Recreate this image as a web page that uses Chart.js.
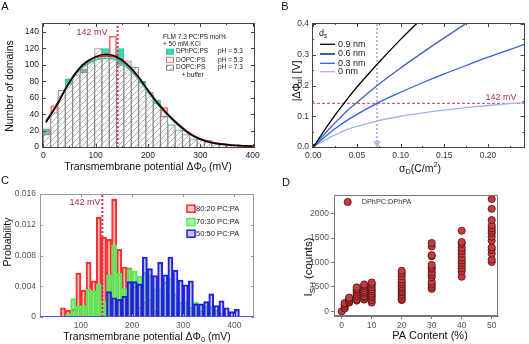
<!DOCTYPE html>
<html>
<head>
<meta charset="utf-8">
<script src="https://cdn.jsdelivr.net/npm/chart.js@4.4.0/dist/chart.umd.min.js"></script>
<style>
  body { margin: 0; background: #fff; }
  #wrap { position: relative; width: 529px; height: 344px; overflow: hidden; }
  #wrap canvas { position: absolute; left: 0; top: 0; }
</style>
</head>
<body>
<div id="wrap">
  <canvas id="chartA" width="529" height="344"></canvas>
  <canvas id="chartB" width="529" height="344"></canvas>
  <canvas id="chartC" width="529" height="344"></canvas>
  <canvas id="chartD" width="529" height="344"></canvas>
</div>
<script>
// ---- A: domain potential histograms (14 mV bins) + fits
var aBinWidth = 14;
var aBins = [7, 21, 35, 49, 63, 77, 91, 105, 119, 133, 147, 161, 175, 189, 203, 217, 231, 245, 259, 273, 287, 301, 315, 329, 343, 357, 371, 385, 399];
var aDphpc53 = [22, 38, 65, 83, 87, 95, 102, 110, 120, 112, 120, 104, 95, 80, 66, 57, 38, 27, 19, 13, 9, 7, 6, 4, 3, 2, 1.5, 1, 0.5];
var aDopc53 = [20, 50, 60, 75, 85, 95, 100, 112, 110, 135, 108, 100, 92, 75, 65, 50, 48, 25, 18, 12, 8, 7, 6, 4.5, 3, 2, 1.5, 1, 0.5];
var aDopc73 = [15, 42, 69, 77, 88, 91, 105, 120, 113, 110, 100, 105, 97, 78, 67, 53, 37, 27, 21, 15, 10, 10, 8.5, 4.5, 3.6, 2.4, 2, 1, 0.8];
var aFitX = [5, 25, 50, 75, 100, 120, 140, 160, 180, 200, 220, 240, 260, 280, 300, 320, 340, 360, 380, 400];
var aFitBlack = [30, 50, 79, 100, 110, 113, 110, 101, 87, 69, 52, 38, 26, 16, 9.5, 5.5, 3.5, 2.2, 1.5, 1];
var aFitRed = [31, 51, 79, 99, 109, 111, 109, 100, 86, 69, 53, 39, 27, 17, 10, 6, 3.8, 2.4, 1.6, 1.1];
var aFitTeal = [32, 51, 78, 97, 106, 108, 106, 97, 84, 67, 51, 37, 25, 15.5, 9, 5.3, 3.3, 2.1, 1.4, 1];
var aTicksX = [0, 100, 200, 300, 400];
var aTicksY = [0, 20, 40, 60, 80, 100, 120, 140];
var markMv = 142;

// ---- B: diffuse potential vs surface charge for several Stern layer thicknesses
var bSigma = [0, 0.01, 0.02, 0.03, 0.04, 0.05, 0.075, 0.1, 0.125, 0.15, 0.175, 0.2, 0.225, 0.245];
var b09 = [0, 0.043, 0.084, 0.123, 0.16, 0.195, 0.275, 0.35, 0.42, 0.49, null, null, null, null];
var b06 = [0, 0.033, 0.064, 0.093, 0.121, 0.145, 0.204, 0.257, 0.307, 0.355, 0.402, 0.448, null, null];
var b03 = [0, 0.025, 0.049, 0.070, 0.089, 0.106, 0.145, 0.178, 0.209, 0.238, 0.265, 0.292, 0.317, 0.337];
var b00 = [0, 0.017, 0.033, 0.046, 0.058, 0.067, 0.086, 0.100, 0.111, 0.120, 0.128, 0.135, 0.141, 0.145];
var sigmaMark = 0.073;
var bTicksX = [0, 0.05, 0.1, 0.15, 0.2];
var bTicksY = [0, 0.1, 0.2, 0.3, 0.4];

// ---- C: PC:PA probability histograms (10 mV bins)
var cBinWidth = 10;
var cBins = [65, 75, 85, 95, 105, 115, 125, 135, 145, 155, 165, 175, 185, 195, 205, 215, 225, 235, 245, 255, 265, 275, 285, 295, 305, 315, 325, 335, 345, 355, 365, 375, 385, 395, 405];
var c8020 = [0.0012, 0.0009, 0.0010, 0.0057, 0.0035, 0.0071, 0.0047, 0.0130, 0.0104, 0.0101, 0.0153, 0.0088, 0.0065, 0.0064, 0.0040, 0.0013, 0.0020, 0.0023, 0.0008,
  null, null, null, null, null, null, null, null, null, null, null, null, null, null, null, null, null];
var c7030 = [null, 0.0004, 0.0024, 0.0015, 0.0015, 0.0036, 0.0034, 0.0043, 0.0020, 0.0055, 0.0094, 0.0057, 0.0037, 0.0063, 0.0060, 0.0053, 0.0058, 0.0055, 0.0037,
  0.0037, 0.0046, 0.0050, 0.0030, 0.0019, 0.0020, 0.0013, 0.0019, 0.0009, 0.0014, 0.0014, 0.0009, 0.0005, null, null, null];
var c5050 = [null, null, null, null, null, null, null, null, null, 0.0033, 0.0025, 0.0023, 0.0027, 0.0046, 0.0046, 0.0043, 0.0078, 0.0063, 0.0054,
  0.0071, 0.0055, 0.0078, 0.0061, 0.0048, 0.0042, 0.0047, 0.0017, 0.0017, 0.0020, 0.0030, 0.0015, 0.0021, 0.0012, 0.0007, 0.0010];
var cTicksX = [100, 200, 300, 400];
var cTicksY = [0, 0.004, 0.008, 0.012, 0.016];

// ---- D: SH intensity vs PA content
var dContent = [0, 1, 2.5, 5, 7.5, 10, 20, 30, 40, 50];
var dCounts = [
  [0],
  [60, 100, 140, 170],
  [180, 200, 230, 260, 280],
  [220, 250, 300, 340, 380, 420, 450, 490],
  [240, 280, 310, 360, 390, 430, 480, 520, 550],
  [180, 230, 280, 320, 360, 410, 450, 500, 550, 590],
  [230, 260, 310, 350, 390, 420, 470, 510, 560, 600, 650, 720, 780, 830],
  [460, 500, 550, 600, 700, 750, 800, 870, 900, 950, 1130, 1150, 1330, 1400],
  [710, 820, 880, 940, 990, 1040, 1100, 1180, 1240, 1300, 1380, 1420, 1650],
  [1010, 1060, 1180, 1260, 1310, 1450, 1530, 1600, 1650, 1700, 1760, 1870, 2100, 2300]
];
var dTicksX = [0, 10, 20, 30, 40, 50];
var dTicksY = [0, 500, 1000, 1500, 2000];

var W = 529, H = 344;
var FONT = '"Liberation Sans", Arial, Helvetica, sans-serif';
var MAROON = '#a2305f';

Chart.defaults.animation = false;
Chart.defaults.events = [];
Chart.defaults.font.family = FONT;
Chart.defaults.plugins.legend.display = false;
Chart.defaults.plugins.tooltip.enabled = false;

function pts(xs, ys) {
  return xs.map(function (x, i) { return { x: x, y: ys[i] }; });
}

// text with optional sub/superscript pieces: [['ΔΦ'], ['0', 'sub'], ...]
function richText(ctx, t) {
  var size = t.size || 10.5;
  var segs = (typeof t.text === 'string' ? [[t.text]] : t.text).map(function (s) {
    return { s: s[0], k: s[1] || '', f: s[1] ? size * 0.7 : size };
  });
  ctx.save();
  ctx.translate(t.x, t.y);
  if (t.rot) ctx.rotate(t.rot * Math.PI / 180);
  ctx.fillStyle = t.color || '#111';
  ctx.textBaseline = 'middle';
  ctx.textAlign = 'left';
  var w = 0;
  segs.forEach(function (g) { ctx.font = g.f + 'px ' + FONT; g.w = ctx.measureText(g.s).width; w += g.w; });
  var x = t.align === 'left' ? 0 : -w / 2;
  segs.forEach(function (g) {
    ctx.font = g.f + 'px ' + FONT;
    var dy = g.k === 'sub' ? size * 0.3 : (g.k === 'sup' ? -size * 0.35 : 0);
    ctx.fillText(g.s, x, dy);
    x += g.w;
  });
  ctx.restore();
}

function drawInTicks(chart, t) {
  var ctx = chart.ctx, a = chart.chartArea, sx = chart.scales.x, sy = chart.scales.y;
  ctx.strokeStyle = t.color;
  ctx.lineWidth = 1;
  ctx.beginPath();
  function vx(v, len) {
    var p = Math.round(sx.getPixelForValue(v)) + 0.5;
    ctx.moveTo(p, a.bottom); ctx.lineTo(p, a.bottom - len);
    ctx.moveTo(p, a.top); ctx.lineTo(p, a.top + len);
  }
  function vy(v, len) {
    var p = Math.round(sy.getPixelForValue(v)) + 0.5;
    ctx.moveTo(a.left, p); ctx.lineTo(a.left + len, p);
    ctx.moveTo(a.right, p); ctx.lineTo(a.right - len, p);
  }
  t.x.forEach(function (v) { vx(v, t.len); });
  (t.xMinor || []).forEach(function (v) { vx(v, t.len / 2); });
  t.y.forEach(function (v) { vy(v, t.len); });
  (t.yMinor || []).forEach(function (v) { vy(v, t.len / 2); });
  ctx.stroke();
}

// frame, inward ticks, labels and legends
Chart.register({
  id: 'decor',
  afterDraw: function (chart, args, o) {
    var ctx = chart.ctx, a = chart.chartArea;
    ctx.save();
    if (o.inTicks) drawInTicks(chart, o.inTicks);
    if (o.frame) {
      ctx.strokeStyle = o.frame;
      ctx.lineWidth = 1;
      ctx.strokeRect(Math.round(a.left) + 0.5, Math.round(a.top) + 0.5, Math.round(a.width) - 1, Math.round(a.height) - 1);
    }
    if (o.legend) o.legend(ctx, chart);
    (o.texts || []).forEach(function (t) { richText(ctx, t); });
    ctx.restore();
  }
});

function hatch(color, step) {
  var c = document.createElement('canvas');
  c.width = c.height = step;
  var g = c.getContext('2d');
  g.fillStyle = '#fff';
  g.fillRect(0, 0, step, step);
  g.strokeStyle = color;
  g.lineWidth = 0.8;
  g.beginPath();
  g.moveTo(0, step); g.lineTo(step, 0);
  g.moveTo(-1, 1); g.lineTo(1, -1);
  g.moveTo(step - 1, step + 1); g.lineTo(step + 1, step - 1);
  g.stroke();
  return g.createPattern(c, 'repeat');
}

function axis(o) {
  return {
    type: 'linear',
    min: o.min, max: o.max, offset: false,
    afterBuildTicks: function (s) { s.ticks = o.ticks.map(function (v) { return { value: v }; }); },
    afterFit: o.fit,
    grid: o.grid || { display: false, drawTicks: false },
    border: o.border || { display: false },
    ticks: {
      font: { family: FONT, size: o.size || 8.5 }, color: o.color || '#222', padding: o.pad || 3,
      maxRotation: 0, autoSkip: false,
      callback: o.fmt || function (v) { return v; }
    }
  };
}

// places the plot area of a full-page canvas on a fixed box
function place(box) {
  return {
    layout: { padding: { left: 0, top: box.t, right: W - box.r, bottom: 0 } },
    fitX: function (s) { s.height = H - box.b; },
    fitY: function (s) { s.width = box.l; }
  };
}

// bars one bin wide on the linear x scale, overlapping across datasets
function bars(binWidth, o) {
  return Object.assign({
    grouped: false,
    barThickness: function (c) {
      var s = c.chart.scales.x;
      return Math.abs(s.getPixelForValue(binWidth) - s.getPixelForValue(0));
    }
  }, o);
}

// ---------------- A ----------------
var pA = place({ l: 42, t: 23, r: 255, b: 148 });
var hatchGrey = hatch('#9a9a9a', 6);
var dsTeal = bars(aBinWidth, { label: 'DPhPC:PS', ph: 'pH = 5.3', data: pts(aBins, aDphpc53), backgroundColor: '#36dcb2', borderColor: '#1fc49c', borderWidth: 1, order: 3 });
var dsRed = bars(aBinWidth, { label: 'DOPC:PS', ph: 'pH = 5.3', data: pts(aBins, aDopc53), backgroundColor: 'rgba(255,255,255,0)', borderColor: '#ff6a6a', borderWidth: 1, order: 2 });
var dsGrey = bars(aBinWidth, { label: 'DOPC:PS', ph: 'pH = 7.3', data: pts(aBins, aDopc73), backgroundColor: hatchGrey, borderColor: '#8a8a8a', borderWidth: 1, order: 1 });

function legendA(ctx) {
  ctx.font = '6.5px ' + FONT;
  ctx.textBaseline = 'middle';
  ctx.textAlign = 'left';
  ctx.fillStyle = '#222';
  ctx.fillText('FLM 7:3 PC:PS mol%', 163, 37.5);
  ctx.fillText('+ 50 mM KCl', 163, 44.5);
  [dsTeal, dsRed, dsGrey].forEach(function (d, i) {
    var y = [51.7, 59.8, 67.7][i];
    ctx.fillStyle = d.backgroundColor;
    ctx.fillRect(166.5, y - 2.5, 7, 5);
    ctx.strokeStyle = d.borderColor;
    ctx.lineWidth = 1;
    ctx.strokeRect(166.5, y - 2.5, 7, 5);
    ctx.fillStyle = '#222';
    ctx.fillText(d.label, 176, y);
    ctx.fillText(d.ph, 218, y);
  });
  ctx.fillText('+ buffer', 181.5, 75);
}

new Chart(document.getElementById('chartA'), {
  type: 'bar',
  data: {
    datasets: [
      { type: 'line', data: pts(aFitX, aFitBlack), borderColor: '#000', borderWidth: 1.6, pointRadius: 0, tension: 0.4, order: 0 },
      { type: 'line', data: pts(aFitX, aFitRed), borderColor: '#ff1c1c', borderWidth: 1.6, pointRadius: 0, tension: 0.4, order: 0 },
      { type: 'line', data: pts(aFitX, aFitTeal), borderColor: '#22cfa4', borderWidth: 1.6, pointRadius: 0, tension: 0.4, order: 0 },
      { type: 'line', data: [{ x: markMv, y: -1.2 }, { x: markMv, y: 151 }], borderColor: '#e8305a', borderWidth: 2, borderDash: [2, 2], pointRadius: 0, order: 0 },
      dsGrey, dsRed, dsTeal
    ]
  },
  options: {
    responsive: false,
    devicePixelRatio: 1,
    layout: pA.layout,
    scales: {
      x: axis({ min: -2.5, max: 404.5, ticks: aTicksX, fit: pA.fitX }),
      y: axis({ min: -1.2, max: 151, ticks: aTicksY, fit: pA.fitY })
    },
    plugins: {
      decor: {
        frame: '#444',
        inTicks: { color: '#444', len: 4, x: aTicksX, xMinor: [50, 150, 250, 350], y: aTicksY },
        legend: legendA,
        texts: [
          { x: 5, y: 7, text: 'A', size: 11 },
          { x: 10, y: 86, text: 'Number of domains', rot: -90 },
          { x: 148, y: 167, text: [['Transmembrane potential ΔΦ'], ['0', 'sub'], [' (mV)']] },
          { x: 92, y: 32.5, text: '142 mV', size: 9, color: MAROON }
        ]
      }
    }
  }
});

// ---------------- B ----------------
var pB = place({ l: 312, t: 23, r: 527, b: 148 });
var bMin = -0.0015, bMax = 0.2419;

function legendB(ctx, chart) {
  richText(ctx, { x: 319, y: 34, text: [['d'], ['s', 'sub']], size: 9, align: 'left' });
  ctx.font = '9px ' + FONT;
  ctx.textBaseline = 'middle';
  ctx.textAlign = 'left';
  chart.data.datasets.slice(0, 4).forEach(function (d, i) {
    var y = [44.3, 54, 63.3, 71.7][i];
    ctx.strokeStyle = d.borderColor;
    ctx.lineWidth = i === 1 ? 2 : 1.3;
    ctx.beginPath();
    ctx.moveTo(320, y); ctx.lineTo(335, y);
    ctx.stroke();
    ctx.fillStyle = '#222';
    ctx.fillText(d.label, 338, y);
  });
}

var curve = { pointRadius: 0, borderWidth: 1.3, cubicInterpolationMode: 'monotone', fill: false };
new Chart(document.getElementById('chartB'), {
  type: 'line',
  data: {
    datasets: [
      Object.assign({ label: '0.9 nm', data: pts(bSigma, b09), borderColor: '#000' }, curve),
      Object.assign({ label: '0.6 nm', data: pts(bSigma, b06), borderColor: '#3f5fc2' }, curve),
      Object.assign({ label: '0.3 nm', data: pts(bSigma, b03), borderColor: '#2e62ea' }, curve),
      Object.assign({ label: '0 nm', data: pts(bSigma, b00), borderColor: '#9db5ee' }, curve),
      { data: [{ x: bMin, y: markMv / 1000 }, { x: bMax, y: markMv / 1000 }], borderColor: '#d43c5e', borderWidth: 1, borderDash: [3, 2], pointRadius: 0 },
      { data: [{ x: sigmaMark, y: 0.4 }, { x: sigmaMark, y: 0.012 }], borderColor: '#b9b2e2', backgroundColor: '#b9b2e2', borderWidth: 2, borderDash: [2, 2],
        pointRadius: [0, 4.5], pointStyle: 'triangle', rotation: 180, pointBorderWidth: 0 }
    ]
  },
  options: {
    responsive: false,
    devicePixelRatio: 1,
    layout: pB.layout,
    scales: {
      x: axis({ min: bMin, max: bMax, ticks: bTicksX, fit: pB.fitX, color: '#333', fmt: function (v) { return v.toFixed(2); } }),
      y: axis({ min: -0.0033, max: 0.4033, ticks: bTicksY, fit: pB.fitY, color: '#333', fmt: function (v) { return v.toFixed(1); } })
    },
    plugins: {
      decor: {
        frame: '#444',
        inTicks: { color: '#444', len: 4, x: bTicksX, xMinor: [0.025, 0.075, 0.125, 0.175, 0.225], y: bTicksY, yMinor: [0.05, 0.15, 0.25, 0.35] },
        legend: legendB,
        texts: [
          { x: 285, y: 7, text: 'B', size: 11 },
          { x: 297, y: 81, text: [['|ΔΦ'], ['d', 'sub'], ['| [V]']], rot: -90 },
          { x: 420, y: 169, text: [['σ'], ['D', 'sub'], ['(C/m'], ['2', 'sup'], [')']] },
          { x: 501, y: 98, text: '142 mV', size: 9, color: MAROON }
        ]
      }
    }
  }
});

// ---------------- C ----------------
var pC = place({ l: 40, t: 194, r: 254, b: 317 });
var dsC = [
  bars(cBinWidth, { label: '80:20 PC:PA', data: pts(cBins, c8020), backgroundColor: 'rgba(255,110,110,0.35)', borderColor: '#ff2a2a', borderWidth: 1.5, order: 3 }),
  bars(cBinWidth, { label: '70:30 PC:PA', data: pts(cBins, c7030), backgroundColor: 'rgba(80,225,80,0.5)', borderColor: '#55ee55', borderWidth: 1.5, order: 2 }),
  bars(cBinWidth, { label: '50:50 PC:PA', data: pts(cBins, c5050), backgroundColor: 'rgba(90,90,225,0.33)', borderColor: '#1f1fe0', borderWidth: 1.5, order: 1 })
];

function legendC(ctx, chart) {
  var a = chart.chartArea, y0 = Math.round(chart.scales.y.getPixelForValue(0)) - 0.5;
  ctx.strokeStyle = '#5050dd';
  ctx.lineWidth = 1;
  ctx.beginPath();
  ctx.moveTo(a.left, y0); ctx.lineTo(a.right, y0);
  ctx.stroke();
  ctx.font = '7.6px ' + FONT;
  ctx.textBaseline = 'middle';
  ctx.textAlign = 'left';
  dsC.forEach(function (d, i) {
    var y = [208.7, 222, 233.7][i];
    ctx.fillStyle = d.backgroundColor;
    ctx.fillRect(187, y - 3.5, 8, 7);
    ctx.strokeStyle = d.borderColor;
    ctx.lineWidth = 1.5;
    ctx.strokeRect(187, y - 3.5, 8, 7);
    ctx.fillStyle = '#222';
    ctx.fillText(d.label, 196, y);
  });
}

new Chart(document.getElementById('chartC'), {
  type: 'bar',
  data: {
    datasets: [
      { type: 'line', data: [{ x: markMv, y: 0 }, { x: markMv, y: 0.016 }], borderColor: '#e0304f', borderWidth: 2, borderDash: [2, 2], pointRadius: 0, order: 0 }
    ].concat(dsC)
  },
  options: {
    responsive: false,
    devicePixelRatio: 1,
    layout: pC.layout,
    scales: {
      x: axis({ min: 20, max: 438.5, ticks: cTicksX, fit: pC.fitX, color: '#555', pad: 4 }),
      y: axis({ min: 0, max: 0.016, ticks: cTicksY, fit: pC.fitY, color: '#555', pad: 4, fmt: function (v) { return v === 0 ? '0' : v.toFixed(3); } })
    },
    plugins: {
      decor: {
        frame: '#9a9a9a',
        inTicks: { color: '#9a9a9a', len: 3, x: cTicksX, y: cTicksY },
        legend: legendC,
        texts: [
          { x: 5, y: 181, text: 'C', size: 11 },
          { x: 8, y: 242, text: 'Probability', rot: -90 },
          { x: 147, y: 337, text: [['Transmembrane potential ΔΦ'], ['0', 'sub'], [' (mV)']] },
          { x: 85, y: 203, text: '142 mV', size: 9, color: MAROON }
        ]
      }
    }
  }
});

// ---------------- D ----------------
var pD = place({ l: 334, t: 195, r: 498, b: 316 });
var dPoints = [];
dContent.forEach(function (x, i) {
  dCounts[i].forEach(function (y) { dPoints.push({ x: x, y: y }); });
});
var dotStyle = { backgroundColor: '#c93a3f', borderColor: '#4a1212', borderWidth: 0.8, pointRadius: 3.6 };

function legendD(ctx) {
  ctx.fillStyle = dotStyle.backgroundColor;
  ctx.strokeStyle = dotStyle.borderColor;
  ctx.lineWidth = dotStyle.borderWidth;
  ctx.beginPath();
  ctx.arc(347.7, 202, dotStyle.pointRadius, 0, Math.PI * 2);
  ctx.fill();
  ctx.stroke();
  ctx.font = '7.3px ' + FONT;
  ctx.textBaseline = 'middle';
  ctx.textAlign = 'left';
  ctx.fillStyle = '#333';
  ctx.fillText('DPhPC:DPhPA', 361.7, 202);
}

var dGrid = { display: true, drawOnChartArea: false, drawTicks: true, tickLength: 3, color: '#777' };
new Chart(document.getElementById('chartD'), {
  type: 'scatter',
  data: { datasets: [Object.assign({ label: 'DPhPC:DPhPA', data: dPoints }, dotStyle)] },
  options: {
    responsive: false,
    devicePixelRatio: 1,
    layout: pD.layout,
    scales: {
      x: axis({ min: -2.57, max: 52.1, ticks: dTicksX, fit: pD.fitX, color: '#555', pad: 2, grid: dGrid, border: { display: true, color: '#777' } }),
      y: axis({ min: -96, max: 2383, ticks: dTicksY, fit: pD.fitY, color: '#555', pad: 2, grid: dGrid, border: { display: true, color: '#777' } })
    },
    plugins: {
      decor: {
        frame: '#777',
        legend: legendD,
        texts: [
          { x: 286, y: 183, text: 'D', size: 11 },
          { x: 309, y: 267, text: [['I'], ['SH', 'sub'], [' (counts)']], size: 11.5, rot: -90 },
          { x: 430, y: 336, text: 'PA Content (%)', size: 11 }
        ]
      }
    }
  }
});
</script>
</body>
</html>
